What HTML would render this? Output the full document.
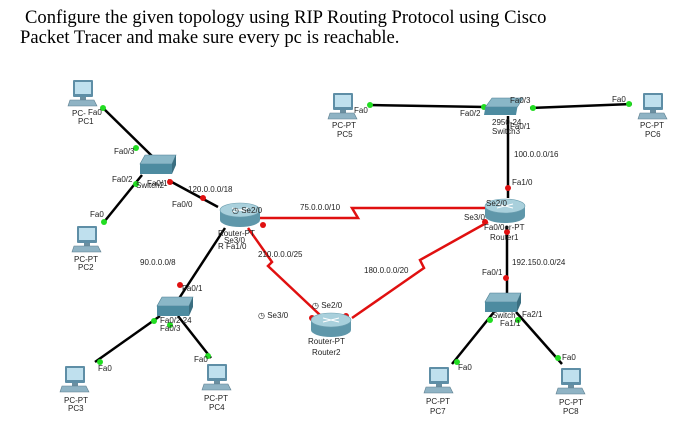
<!DOCTYPE html>
<html><head><meta charset="utf-8"><style>
body{margin:0;background:#fff;width:692px;height:431px;overflow:hidden}
.t{position:absolute;font-family:"Liberation Serif",serif;font-size:18.6px;color:#000;white-space:nowrap}
svg text{font-family:"Liberation Sans",sans-serif;font-size:8px;fill:#222}
</style></head><body>
<div class="t" style="left:25px;top:7px">Configure the given topology using RIP Routing Protocol using Cisco</div>
<div class="t" style="left:20px;top:27px">Packet Tracer and make sure every pc is reachable.</div>
<svg width="692" height="431" style="position:absolute;left:0;top:0">
<defs>
<g id="pc">
<rect x="3" y="0" width="20" height="17" fill="#5e8ea6" rx="1"/>
<rect x="5" y="2" width="16" height="12" fill="#bfe0ee"/>
<rect x="10" y="17" width="6" height="3" fill="#6b8fa0"/>
<path d="M0,20 L24,20 L27,26 L-2,26 Z" fill="#8fb3c4" stroke="#5e7f8f" stroke-width="0.6"/>
</g>
<g id="sw">
<path d="M5,0 L36,0 L32,9 L0,9 Z" fill="#8ab7c7" stroke="#4d7f92" stroke-width="0.6"/>
<path d="M0,9 L32,9 L32,19 L0,19 Z" fill="#4d8ba0"/>
<path d="M32,9 L36,0 L36,10 L32,19 Z" fill="#3a6e80"/>
</g>
<g id="rt">
<rect x="-20" y="-4" width="40" height="10" fill="#5f97aa"/>
<ellipse cx="0" cy="6" rx="20" ry="7" fill="#5f97aa"/>
<ellipse cx="0" cy="-4" rx="20" ry="7" fill="#a9d0dc" stroke="#6d9fb0" stroke-width="0.6"/>
<path d="M-8,-6 L8,-2 M8,-6 L-8,-2" stroke="#fff" stroke-width="1"/>
</g>
</defs>
<g stroke="#000" stroke-width="2.5" fill="none">
<line x1="103" y1="108" x2="153" y2="157"/>
<line x1="142" y1="175" x2="104" y2="222"/>
<line x1="168" y1="180" x2="218" y2="207"/>
<line x1="369" y1="105" x2="486" y2="107"/>
<line x1="530" y1="108" x2="632" y2="104"/>
<line x1="508" y1="116" x2="508" y2="198"/>
<line x1="507" y1="226" x2="507" y2="296"/>
<line x1="494" y1="312" x2="452" y2="364"/>
<line x1="516" y1="312" x2="562" y2="364"/>
<line x1="225" y1="228" x2="178" y2="300"/>
<line x1="160" y1="316" x2="95" y2="362"/>
<line x1="178" y1="316" x2="211" y2="358"/>
</g>
<g stroke="#e01010" stroke-width="2.5" fill="none">
<polyline points="258,218 358,218 352,208 490,208"/>
<polyline points="248,228 272,262 268,266 320,315"/>
<polyline points="488,222 420,260 424,268 352,318"/>
</g>
<g fill="#22dd22">
<circle cx="103" cy="108" r="3"/><circle cx="136" cy="148" r="3"/><circle cx="136" cy="184" r="3"/><circle cx="104" cy="222" r="3"/>
<circle cx="370" cy="105" r="3"/><circle cx="484" cy="107" r="3"/><circle cx="533" cy="108" r="3"/><circle cx="629" cy="104" r="3"/>
<circle cx="490" cy="320" r="3"/><circle cx="518" cy="320" r="3"/><circle cx="457" cy="362" r="3"/><circle cx="558" cy="358" r="3"/>
<circle cx="154" cy="321" r="3"/><circle cx="100" cy="362" r="3"/><circle cx="170" cy="325" r="3"/><circle cx="208" cy="356" r="3"/>
</g>
<g fill="#e01010">
<circle cx="170" cy="182" r="3"/><circle cx="203" cy="198" r="3"/><circle cx="235" cy="218" r="3"/><circle cx="508" cy="188" r="3"/>
<circle cx="506" cy="278" r="3"/><circle cx="507" cy="232" r="3"/><circle cx="485" cy="222" r="3"/><circle cx="180" cy="285" r="3"/>
<circle cx="312" cy="318" r="3"/><circle cx="346" cy="316" r="3"/><circle cx="263" cy="225" r="3"/>
</g>
<use href="#pc" x="70" y="80"/><use href="#pc" x="74" y="226"/><use href="#pc" x="330" y="93"/><use href="#pc" x="640" y="93"/>
<use href="#pc" x="62" y="366"/><use href="#pc" x="204" y="364"/><use href="#pc" x="426" y="367"/><use href="#pc" x="558" y="368"/>
<use href="#sw" x="140" y="155"/><use href="#sw" x="157" y="297"/><use href="#sw" x="485" y="293"/>
<g transform="translate(487,98) skewX(-10)"><path d="M5,0 L36,0 L32,9 L0,9 Z" fill="#8ab7c7" stroke="#4d7f92" stroke-width="0.6"/><rect x="0" y="9" width="32" height="8" fill="#4d8ba0"/></g>
<use href="#rt" x="240" y="214"/><use href="#rt" x="505" y="210"/><use href="#rt" x="331" y="324"/>
<text x="72" y="116">PC-</text><text x="88" y="115">Fa0</text><text x="78" y="124">PC1</text>
<text x="114" y="154">Fa0/3</text><text x="112" y="182">Fa0/2</text><text x="136" y="188">Switch2</text><text x="147" y="186">Fa0/1</text>
<text x="188" y="192">120.0.0.0/18</text><text x="172" y="207">Fa0/0</text>
<text x="232" y="213">◷ Se2/0</text><text x="218" y="236">Router-PT</text><text x="224" y="243">Se3/0</text><text x="218" y="249">R  Fa1/0</text>
<text x="90" y="217">Fa0</text><text x="74" y="262">PC-PT</text><text x="78" y="270">PC2</text>
<text x="300" y="210">75.0.0.0/10</text><text x="258" y="257">210.0.0.0/25</text><text x="140" y="265">90.0.0.0/8</text>
<text x="182" y="291">Fa0/1</text><text x="160" y="323">Fa0/2 24</text><text x="160" y="331">Fa0/3</text>
<text x="98" y="371">Fa0</text><text x="64" y="403">PC-PT</text><text x="68" y="411">PC3</text>
<text x="194" y="362">Fa0</text><text x="204" y="401">PC-PT</text><text x="209" y="410">PC4</text>
<text x="354" y="113">Fa0</text><text x="332" y="128">PC-PT</text><text x="337" y="137">PC5</text>
<text x="510" y="103">Fa0/3</text><text x="460" y="116">Fa0/2</text><text x="492" y="125">2950-24</text><text x="510" y="129">Fa0/1</text><text x="492" y="134">Switch3</text>
<text x="612" y="102">Fa0</text><text x="640" y="128">PC-PT</text><text x="645" y="137">PC6</text>
<text x="514" y="157">100.0.0.0/16</text><text x="512" y="185">Fa1/0</text>
<text x="486" y="206">Se2/0</text><text x="464" y="220">Se3/0</text><text x="484" y="230">Fa0/0er-PT</text><text x="490" y="240">Router1</text>
<text x="512" y="265">192.150.0.0/24</text><text x="482" y="275">Fa0/1</text><text x="364" y="273">180.0.0.0/20</text>
<text x="492" y="318">Switch</text><text x="522" y="317">Fa2/1</text><text x="500" y="326">Fa1/1</text>
<text x="458" y="370">Fa0</text><text x="426" y="404">PC-PT</text><text x="430" y="414">PC7</text>
<text x="562" y="360">Fa0</text><text x="559" y="405">PC-PT</text><text x="563" y="414">PC8</text>
<text x="258" y="318">◷ Se3/0</text><text x="312" y="308">◷ Se2/0</text><text x="308" y="344">Router-PT</text><text x="312" y="355">Router2</text>
</svg>
</body></html>
